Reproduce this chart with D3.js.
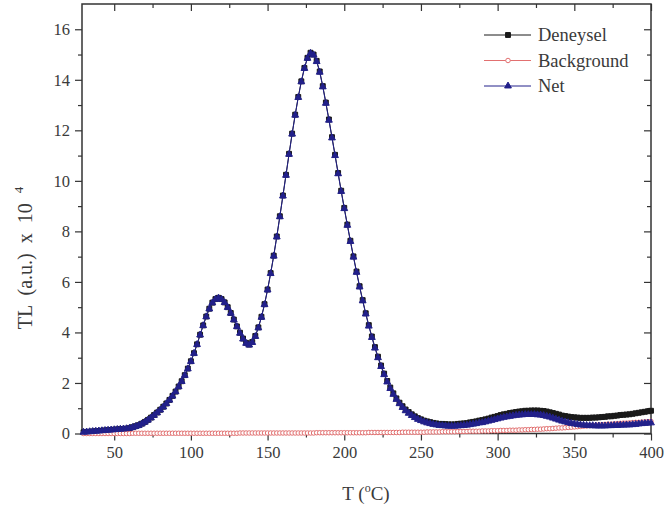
<!DOCTYPE html>
<html>
<head>
<meta charset="utf-8">
<script src="https://cdn.jsdelivr.net/npm/d3@7"></script>
<style>
  body { margin: 0; background: #fff; }
  svg text { font-family: "Liberation Serif", "Times New Roman", serif; fill: #3a3a3a; }
</style>
</head>
<body>
<svg id="chart" width="665" height="513"></svg>
<script>
// temperature (C), one reading every 2 degrees
var temps = [
  30,32,34,36,38,40,42,44,46,48,
  50,52,54,56,58,60,62,64,66,68,
  70,72,74,76,78,80,82,84,86,88,
  90,92,94,96,98,100,102,104,106,108,
  110,112,114,116,118,120,122,124,126,128,
  130,132,134,136,138,140,142,144,146,148,
  150,152,154,156,158,160,162,164,166,168,
  170,172,174,176,178,180,182,184,186,188,
  190,192,194,196,198,200,202,204,206,208,
  210,212,214,216,218,220,222,224,226,228,
  230,232,234,236,238,240,242,244,246,248,
  250,252,254,256,258,260,262,264,266,268,
  270,272,274,276,278,280,282,284,286,288,
  290,292,294,296,298,300,302,304,306,308,
  310,312,314,316,318,320,322,324,326,328,
  330,332,334,336,338,340,342,344,346,348,
  350,352,354,356,358,360,362,364,366,368,
  370,372,374,376,378,380,382,384,386,388,
  390,392,394,396,398,400
];

var deneysel = [
  0.05,0.06,0.07,0.08,0.09,0.10,0.11,0.12,0.13,0.14,
  0.15,0.16,0.17,0.18,0.19,0.21,0.25,0.29,0.33,0.39,
  0.46,0.54,0.63,0.73,0.83,0.94,1.06,1.19,1.33,1.49,
  1.66,1.86,2.07,2.31,2.57,2.86,3.18,3.53,3.91,4.28,
  4.63,4.94,5.18,5.32,5.37,5.32,5.19,5.00,4.77,4.51,
  4.24,3.99,3.76,3.59,3.52,3.62,3.86,4.20,4.62,5.12,
  5.70,6.35,7.04,7.80,8.60,9.42,10.24,11.07,11.87,12.62,
  13.32,13.94,14.47,14.87,15.07,15.00,14.75,14.33,13.75,13.10,
  12.43,11.73,11.03,10.31,9.61,8.93,8.27,7.63,7.01,6.41,
  5.83,5.28,4.76,4.29,3.84,3.42,3.04,2.69,2.37,2.08,
  1.82,1.59,1.39,1.22,1.08,0.95,0.85,0.76,0.68,0.61,
  0.56,0.51,0.48,0.45,0.42,0.40,0.38,0.38,0.37,0.36,
  0.36,0.36,0.38,0.39,0.40,0.41,0.44,0.46,0.48,0.51,
  0.53,0.56,0.59,0.63,0.66,0.69,0.73,0.76,0.78,0.81,
  0.83,0.85,0.87,0.88,0.90,0.90,0.91,0.91,0.91,0.90,
  0.89,0.87,0.84,0.81,0.78,0.75,0.71,0.69,0.67,0.65,
  0.64,0.63,0.62,0.62,0.62,0.62,0.63,0.63,0.64,0.65,
  0.66,0.68,0.68,0.70,0.71,0.73,0.74,0.75,0.76,0.78,
  0.80,0.82,0.84,0.86,0.88,0.90
];

var background = [
  0.00,0.00,0.00,0.00,0.00,0.00,0.00,0.00,0.00,0.00,
  0.00,0.00,0.00,0.00,0.00,0.00,0.01,0.01,0.01,0.01,
  0.01,0.01,0.01,0.01,0.01,0.01,0.01,0.01,0.01,0.01,
  0.01,0.01,0.01,0.01,0.01,0.01,0.01,0.01,0.01,0.01,
  0.01,0.01,0.01,0.01,0.01,0.01,0.01,0.01,0.01,0.01,
  0.01,0.02,0.02,0.02,0.02,0.02,0.02,0.02,0.02,0.02,
  0.02,0.02,0.02,0.02,0.02,0.02,0.02,0.02,0.02,0.02,
  0.02,0.02,0.02,0.02,0.02,0.02,0.03,0.03,0.03,0.03,
  0.03,0.03,0.03,0.03,0.03,0.03,0.03,0.03,0.03,0.03,
  0.03,0.03,0.03,0.04,0.04,0.04,0.04,0.04,0.04,0.04,
  0.04,0.04,0.04,0.04,0.05,0.05,0.05,0.05,0.05,0.05,
  0.05,0.05,0.06,0.06,0.06,0.06,0.06,0.07,0.07,0.07,
  0.07,0.07,0.08,0.08,0.08,0.08,0.09,0.09,0.09,0.09,
  0.10,0.10,0.10,0.11,0.11,0.11,0.12,0.12,0.12,0.13,
  0.13,0.13,0.14,0.14,0.15,0.15,0.16,0.16,0.17,0.17,
  0.18,0.19,0.19,0.20,0.21,0.22,0.22,0.23,0.24,0.25,
  0.26,0.27,0.28,0.29,0.30,0.31,0.32,0.33,0.34,0.35,
  0.36,0.37,0.37,0.38,0.39,0.40,0.41,0.41,0.42,0.43,
  0.44,0.44,0.45,0.46,0.47,0.48
];

var net = [
  0.05,0.06,0.07,0.08,0.09,0.10,0.11,0.12,0.13,0.14,
  0.15,0.16,0.17,0.18,0.19,0.21,0.24,0.28,0.32,0.38,
  0.45,0.53,0.62,0.72,0.82,0.93,1.05,1.18,1.32,1.48,
  1.65,1.85,2.06,2.30,2.56,2.85,3.17,3.52,3.90,4.27,
  4.62,4.93,5.17,5.31,5.36,5.31,5.18,4.99,4.76,4.50,
  4.23,3.97,3.74,3.57,3.50,3.60,3.84,4.18,4.60,5.10,
  5.68,6.33,7.02,7.78,8.58,9.40,10.22,11.05,11.85,12.60,
  13.30,13.92,14.45,14.85,15.05,14.98,14.72,14.30,13.72,13.07,
  12.40,11.70,11.00,10.28,9.58,8.90,8.24,7.60,6.98,6.38,
  5.80,5.25,4.73,4.25,3.80,3.38,3.00,2.65,2.33,2.04,
  1.78,1.55,1.35,1.18,1.03,0.90,0.80,0.71,0.63,0.56,
  0.51,0.46,0.42,0.39,0.36,0.34,0.32,0.31,0.30,0.29,
  0.29,0.29,0.30,0.31,0.32,0.33,0.35,0.37,0.39,0.42,
  0.43,0.46,0.49,0.52,0.55,0.58,0.61,0.64,0.66,0.68,
  0.70,0.72,0.73,0.74,0.75,0.75,0.75,0.75,0.74,0.73,
  0.71,0.68,0.65,0.61,0.57,0.53,0.49,0.46,0.43,0.40,
  0.38,0.36,0.34,0.33,0.32,0.31,0.31,0.30,0.30,0.30,
  0.30,0.31,0.31,0.32,0.32,0.33,0.33,0.34,0.34,0.35,
  0.36,0.38,0.39,0.40,0.41,0.42
];

var xMajorTicks = [50, 100, 150, 200, 250, 300, 350, 400];
var xMinorTicks = [75, 125, 175, 225, 275, 325, 375];
var yMajorTicks = [0, 2, 4, 6, 8, 10, 12, 14, 16];
var yMinorTicks = [1, 3, 5, 7, 9, 11, 13, 15];

var seriesNames = ["Deneysel", "Background", "Net"];

function build_chart() {
    var svg = d3.select("#chart");
    const plot = {left: 82, right: 651, top: 4, bottom: 433.5};

    var xScale = d3.scaleLinear().domain([29, 400]).range([plot.left, plot.right]);
    var yScale = d3.scaleLinear().domain([0, 17]).range([plot.bottom, plot.top]);

    var series = [
        {name: seriesNames[0], values: deneysel, stroke: "#1a1a1a", fill: "#1a1a1a", symbol: d3.symbolSquare, size: 24},
        {name: seriesNames[1], values: background, stroke: "#e27070", fill: "#fff", symbol: d3.symbolCircle, size: 16},
        {name: seriesNames[2], values: net, stroke: "#22208a", fill: "#22208a", symbol: d3.symbolTriangle, size: 20}
    ];

    var axisColor = "#333";

    // axes: outward ticks on left / bottom, inward mirror ticks on right / top
    function styleAxis(g) {
        g.select(".domain").remove();
        g.selectAll(".tick line").attr("stroke", axisColor).attr("stroke-width", 1.2);
        g.selectAll(".tick text").attr("font-size", 16.5).attr("fill", "#3a3a3a")
            .attr("font-family", "Liberation Serif, Times New Roman, serif");
    }

    svg.append("g").attr("transform", "translate(0," + plot.bottom + ")")
        .call(d3.axisBottom(xScale).tickValues(xMajorTicks).tickSize(7).tickPadding(6).tickFormat(d3.format("d")))
        .call(styleAxis);
    svg.append("g").attr("transform", "translate(0," + plot.bottom + ")")
        .call(d3.axisBottom(xScale).tickValues(xMinorTicks).tickSize(4).tickFormat(""))
        .call(styleAxis);
    svg.append("g").attr("transform", "translate(0," + plot.top + ")")
        .call(d3.axisBottom(xScale).tickValues(xMajorTicks).tickSize(7).tickFormat(""))
        .call(styleAxis);
    svg.append("g").attr("transform", "translate(0," + plot.top + ")")
        .call(d3.axisBottom(xScale).tickValues(xMinorTicks).tickSize(4).tickFormat(""))
        .call(styleAxis);

    svg.append("g").attr("transform", "translate(" + plot.left + ",0)")
        .call(d3.axisLeft(yScale).tickValues(yMajorTicks).tickSize(7).tickPadding(5).tickFormat(d3.format("d")))
        .call(styleAxis);
    svg.append("g").attr("transform", "translate(" + plot.left + ",0)")
        .call(d3.axisLeft(yScale).tickValues(yMinorTicks).tickSize(4).tickFormat(""))
        .call(styleAxis);
    svg.append("g").attr("transform", "translate(" + plot.right + ",0)")
        .call(d3.axisLeft(yScale).tickValues(yMajorTicks).tickSize(7).tickFormat(""))
        .call(styleAxis);
    svg.append("g").attr("transform", "translate(" + plot.right + ",0)")
        .call(d3.axisLeft(yScale).tickValues(yMinorTicks).tickSize(4).tickFormat(""))
        .call(styleAxis);

    svg.append("rect")
        .attr("x", plot.left).attr("y", plot.top)
        .attr("width", plot.right - plot.left).attr("height", plot.bottom - plot.top)
        .attr("fill", "none").attr("stroke", axisColor).attr("stroke-width", 1.5);

    // curves
    var line = d3.line()
        .x((d, i) => xScale(temps[i]))
        .y(d => yScale(d));

    series.forEach(function(s) {
        var g = svg.append("g").attr("class", "series");
        g.append("path")
            .datum(s.values)
            .attr("fill", "none")
            .attr("stroke", s.stroke)
            .attr("stroke-width", 1)
            .attr("d", line);
        g.selectAll("path.marker")
            .data(s.values).enter()
            .append("path").attr("class", "marker")
            .attr("transform", (d, i) => "translate(" + xScale(temps[i]) + "," + yScale(d) + ")")
            .attr("d", d3.symbol().type(s.symbol).size(s.size))
            .attr("fill", s.fill)
            .attr("stroke", s.stroke)
            .attr("stroke-width", 1);
    });

    // legend
    var legend = svg.append("g").attr("class", "legend");
    series.forEach(function(s, i) {
        var ly = 35 + i * 25.5;
        legend.append("line")
            .attr("x1", 484).attr("x2", 531).attr("y1", ly).attr("y2", ly)
            .attr("stroke", s.stroke).attr("stroke-width", 1);
        legend.append("path")
            .attr("transform", "translate(508," + ly + ")")
            .attr("d", d3.symbol().type(s.symbol).size(s.size))
            .attr("fill", s.fill).attr("stroke", s.stroke).attr("stroke-width", 1);
        legend.append("text")
            .attr("x", 538).attr("y", ly + 6)
            .attr("font-size", 18.5)
            .text(s.name);
    });

    // axis titles
    var xTitle = svg.append("text")
        .attr("x", 366).attr("y", 500)
        .attr("text-anchor", "middle")
        .attr("font-size", 19);
    xTitle.append("tspan").text("T (");
    xTitle.append("tspan").attr("font-size", 12).attr("dy", -8).text("o");
    xTitle.append("tspan").attr("dy", 8).text("C)");

    var yTitle = svg.append("text")
        .attr("transform", "translate(32,258) rotate(-90)")
        .attr("text-anchor", "middle")
        .attr("font-size", 20)
        .attr("word-spacing", 5);
    yTitle.append("tspan").text("TL (a.u.) x 10 ");
    yTitle.append("tspan").attr("font-size", 13).attr("dy", -9).text("4");
}

build_chart();
</script>
</body>
</html>
